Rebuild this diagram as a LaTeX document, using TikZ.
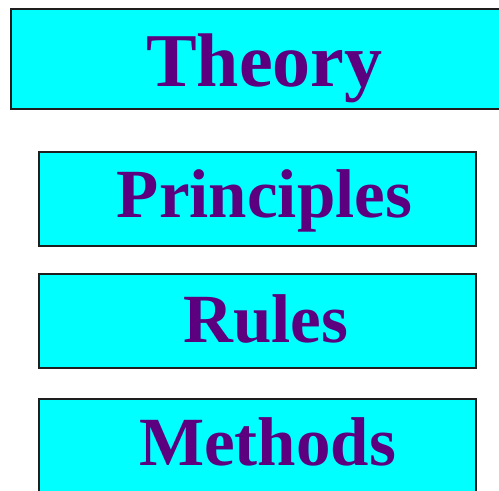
\documentclass[tikz,border=0pt]{standalone}
\usepackage{fontspec}
\setmainfont{Liberation Serif}
\definecolor{boxfill}{RGB}{0,255,255}
\definecolor{boxline}{RGB}{30,30,30}
\definecolor{wordcol}{RGB}{92,0,128}
\tikzset{
  slab/.style={draw=boxline, line width=1.6bp, fill=boxfill},
  bigword/.style={anchor=base, inner sep=0pt, text=wordcol, font=\bfseries\fontsize{76bp}{80bp}\selectfont},
  word/.style={anchor=base, inner sep=0pt, text=wordcol, font=\bfseries\fontsize{69bp}{72bp}\selectfont}
}
\begin{document}
\begin{tikzpicture}[x=1bp,y=-1bp]
\useasboundingbox (0,0) rectangle (499,491);
\clip (0,0) rectangle (499,491);
\node[slab, minimum width=510bp, minimum height=100.5bp, anchor=north west, inner sep=0pt] (theorybox) at (10,8) {};
\node[slab, minimum width=437bp, minimum height=94bp, anchor=north west, inner sep=0pt] (principlesbox) at (38,151) {};
\node[slab, minimum width=437bp, minimum height=94bp, anchor=north west, inner sep=0pt] (rulesbox) at (38,273) {};
\node[slab, minimum width=437bp, minimum height=120bp, anchor=north west, inner sep=0pt] (methodsbox) at (38,398) {};
\node[bigword] (theory) at (264.5,87) {Theory};
\node[word] (principles) at (264.5,217) {Principles};
\node[word] (rules) at (266,342) {Rules};
\node[word] (methods) at (267.5,465) {Methods};
\end{tikzpicture}
\end{document}
